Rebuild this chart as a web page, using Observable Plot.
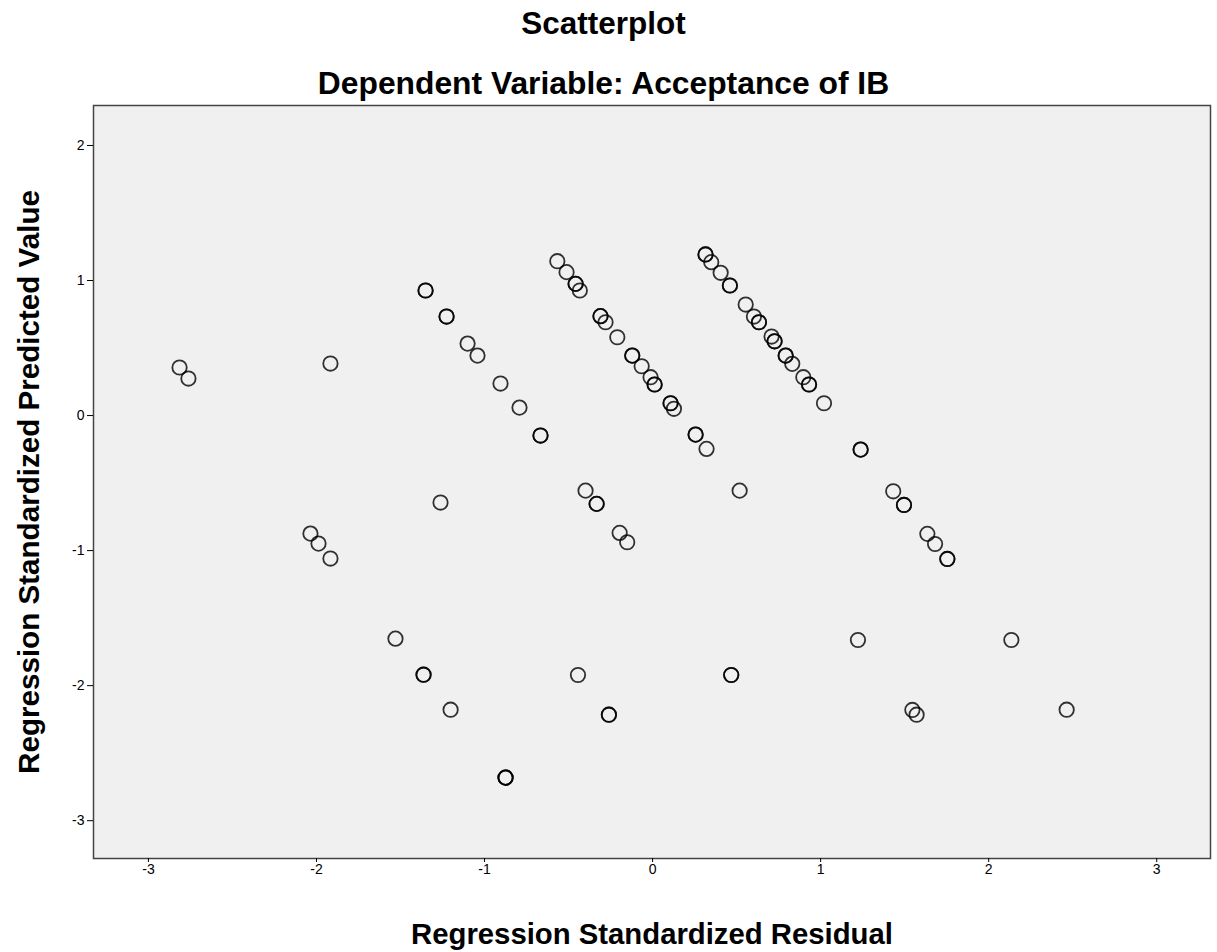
<!DOCTYPE html>
<html>
<head>
<meta charset="utf-8">
<script src="https://cdn.jsdelivr.net/npm/d3@7"></script>
<script src="https://cdn.jsdelivr.net/npm/@observablehq/plot@0.6"></script>
<style>
  html, body { margin: 0; padding: 0; background: #ffffff; }
  #wrap { position: relative; width: 1217px; height: 952px; font-family: "Liberation Sans", Arial, sans-serif; }
  .ttl { position: absolute; left: -5px; width: 1217px; text-align: center; font-weight: bold; color: #000; white-space: nowrap; line-height: 1; }
  #chart { position: absolute; left: 0; top: 0; }
</style>
</head>
<body>
<div id="wrap">
  <div id="chart"></div>
  <div class="ttl" id="t1" style="top:8px; font-size:31.5px;">Scatterplot</div>
  <div class="ttl" id="t2" style="top:68px; font-size:31.8px;">Dependent Variable: Acceptance of IB</div>
</div>
<script>
// Regression Standardized Residual (x) and Regression Standardized Predicted Value (y)
const residual = [
  -2.815, -2.762, -1.917, -1.351, -1.351, -1.226, -1.226, -1.101, -1.042, -0.905, -0.792, -0.667, -0.667,
  -1.262, -2.036, -1.988, -1.917, -1.530, -1.363, -1.363, -1.202, -0.875, -0.875, -0.875,
  -0.567, -0.512, -0.458, -0.458, -0.433, -0.310, -0.310, -0.280, -0.210, -0.121, -0.121, -0.065, -0.012, 0.012, 0.012,
  0.107, 0.107, 0.127, 0.256, 0.256, 0.321,
  -0.399, -0.333, -0.333, -0.196, -0.151, 0.518,
  0.315, 0.315, 0.349, 0.405, 0.460, 0.460, 0.554, 0.603, 0.633, 0.633, 0.708, 0.726, 0.726, 0.792, 0.792, 0.831, 0.897, 0.931, 0.931, 1.020,
  1.238, 1.238, 1.432, 1.496, 1.496, 1.635, 1.681, 1.754, 1.754, 1.222, 2.135, 1.546, 1.571, 2.464,
  -0.444, -0.260, -0.260, 0.468, 0.468
];
const predicted = [
  0.356, 0.274, 0.385, 0.926, 0.926, 0.733, 0.733, 0.533, 0.444, 0.237, 0.059, -0.148, -0.148,
  -0.644, -0.874, -0.948, -1.059, -1.652, -1.919, -1.919, -2.178, -2.681, -2.681, -2.681,
  1.143, 1.062, 0.975, 0.975, 0.926, 0.736, 0.736, 0.691, 0.580, 0.444, 0.444, 0.365, 0.284, 0.230, 0.230,
  0.091, 0.091, 0.050, -0.141, -0.141, -0.247,
  -0.556, -0.654, -0.654, -0.869, -0.938, -0.556,
  1.193, 1.193, 1.136, 1.057, 0.963, 0.963, 0.822, 0.733, 0.691, 0.691, 0.585, 0.550, 0.550, 0.444, 0.444, 0.383, 0.284, 0.230, 0.230, 0.091,
  -0.252, -0.252, -0.561, -0.662, -0.662, -0.876, -0.951, -1.062, -1.062, -1.662, -1.662, -2.180, -2.215, -2.178,
  -1.921, -2.215, -2.215, -1.921, -1.921
];
const xTicks = [-3, -2, -1, 0, 1, 2, 3];
const yTicks = [2, 1, 0, -1, -2, -3];

const pts = residual.map((r, i) => ({residual: r, predicted: predicted[i]}));

const chart = Plot.plot({
  width: 1217,
  height: 952,
  marginTop: 105,
  marginLeft: 93,
  marginRight: 7,
  marginBottom: 94,
  style: { fontFamily: "Liberation Sans, Arial, sans-serif", fontSize: "14px", color: "#000", background: "transparent" },
  x: { domain: [-3.327, 3.32], ticks: xTicks, tickFormat: d => d, label: null },
  y: { domain: [-3.28, 2.296], ticks: yTicks, tickFormat: d => d, label: null },
  marks: [
    Plot.frame({ fill: "#f0f0f0", stroke: "none" }),
    Plot.dot(pts, { x: "residual", y: "predicted", r: 7.2, stroke: "#000", strokeWidth: 1.8, strokeOpacity: 0.8, fill: "none" }),
    Plot.frame({ stroke: "#444", strokeWidth: 1.5 }),
    Plot.axisX({ ticks: xTicks, tickSize: 4, tickPadding: 2, tickFormat: d => d, label: null, fontSize: 14 }),
    Plot.axisY({ ticks: yTicks, tickSize: 6, tickPadding: 3, tickFormat: d => d, label: null, fontSize: 14 }),
    Plot.axisX({ ticks: [], label: "Regression Standardized Residual", labelAnchor: "center", labelOffset: 85, labelArrow: "none" }),
    Plot.axisY({ ticks: [], label: "Regression Standardized Predicted Value", labelAnchor: "center", labelOffset: 76, labelArrow: "none" })
  ]
});
document.getElementById("chart").appendChild(chart);
d3.select(chart).selectAll("[aria-label='x-axis label'] text")
  .style("font-size", "29.3px").style("font-weight", "bold").attr("fill", "#000");
d3.select(chart).selectAll("[aria-label='y-axis label'] text")
  .style("font-size", "29.6px").style("font-weight", "bold").attr("fill", "#000");
</script>
</body>
</html>
